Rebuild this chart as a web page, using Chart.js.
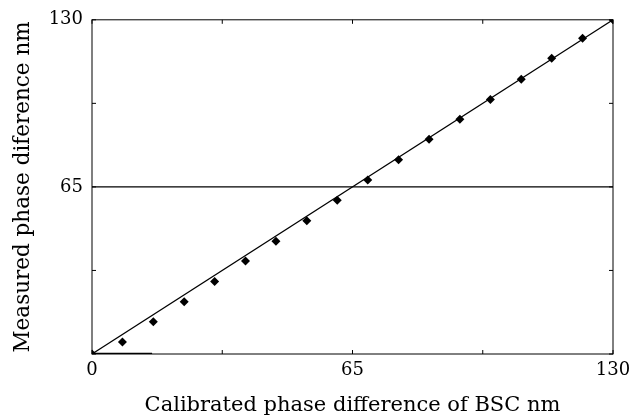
<!DOCTYPE html>
<html>
<head>
<meta charset="utf-8">
<script src="https://cdn.jsdelivr.net/npm/chart.js@4/dist/chart.umd.min.js"></script>
<style>
	html, body { margin: 0; padding: 0; background: #fff; }
	#wrap { width: 643px; height: 418px; }
</style>
</head>
<body>
<div id="wrap"><canvas id="myChart" width="643" height="418"></canvas></div>
<script>
// measured points
const calibrated = [0, 7.6, 15.3, 23.0, 30.6, 38.3, 45.9, 53.6, 61.2, 68.8, 76.5, 84.1, 91.8, 99.4, 107.1, 114.7, 122.4, 130];
const measured = [0, 4.7, 12.5, 20.3, 28.2, 36.2, 43.9, 51.8, 59.8, 67.7, 75.6, 83.5, 91.3, 99.0, 106.9, 115.0, 122.8, 130];

// ideal line and reference line at 65
const idealX = [0, 130];
const idealY = [0, 130];
const refX = [0, 130];
const refY = [65, 65];
const stubX = [0, 15];
const stubY = [0, 0];

const tickValues = [0, 32.5, 65, 97.5, 130];
const xTickLabels = ["0", "", "65", "", "130"];
const yTickLabels = ["", "", "65", "", "130"];

const FONT = "'DejaVu Serif', serif";

const toPoints = (xs, ys) => xs.map((x, i) => ({ x: x, y: ys[i] }));
const labelFor = (labels, v) => {
	const i = tickValues.indexOf(v);
	return i >= 0 ? labels[i] : "";
};

// frame around the plot and short ticks pointing inwards on all four sides
const frameTicks = {
	id: "frameTicks",
	afterDatasetsDraw(chart) {
		const { ctx, chartArea: a, scales } = chart;
		const len = 4;
		ctx.save();
		ctx.strokeStyle = "#000";
		ctx.lineWidth = 1;
		ctx.strokeRect(a.left, a.top, a.right - a.left, a.bottom - a.top);
		ctx.beginPath();
		tickValues.forEach((v) => {
			const px = scales.x.getPixelForValue(v);
			ctx.moveTo(px, a.bottom);
			ctx.lineTo(px, a.bottom - len);
			ctx.moveTo(px, a.top);
			ctx.lineTo(px, a.top + len);
			const py = scales.y.getPixelForValue(v);
			ctx.moveTo(a.left, py);
			ctx.lineTo(a.left + len, py);
			ctx.moveTo(a.right, py);
			ctx.lineTo(a.right - len, py);
		});
		ctx.stroke();
		ctx.restore();
	},
};

new Chart(document.getElementById("myChart").getContext("2d"), {
	type: "scatter",
	data: {
		datasets: [
			{
				label: "Measured",
				data: toPoints(calibrated, measured),
				pointStyle: "rectRot",
				pointRadius: 4.5,
				backgroundColor: "#000",
				borderColor: "#000",
				borderWidth: 0,
				showLine: false,
			},
			{
				label: "Ideal",
				data: toPoints(idealX, idealY),
				showLine: true,
				borderColor: "#000",
				borderWidth: 1.2,
				pointRadius: 0,
			},
			{
				label: "Reference",
				data: toPoints(refX, refY),
				showLine: true,
				borderColor: "#000",
				borderWidth: 1.2,
				pointRadius: 0,
			},
			{
				label: "Stub",
				data: toPoints(stubX, stubY),
				showLine: true,
				borderColor: "#000",
				borderWidth: 2.5,
				pointRadius: 0,
			},
		],
	},
	options: {
		responsive: false,
		animation: false,
		layout: { padding: { top: 17, right: 30, left: 0, bottom: 0 } },
		plugins: {
			legend: { display: false },
			tooltip: { enabled: false },
		},
		scales: {
			x: {
				type: "linear",
				min: 0,
				max: 130,
				afterBuildTicks: (s) => { s.ticks = tickValues.map((v) => ({ value: v })); },
				afterFit: (s) => { s.height = 64; },
				grid: { display: false, drawTicks: false },
				border: { display: false },
				ticks: {
					color: "#000",
					font: { family: FONT, size: 18 },
					padding: 6,
					maxRotation: 0,
					callback: (v) => labelFor(xTickLabels, v),
				},
				title: {
					display: true,
					text: "Calibrated phase difference of BSC nm",
					color: "#000",
					font: { family: FONT, size: 21 },
					padding: { top: 0, bottom: 0 },
				},
			},
			y: {
				type: "linear",
				min: 0,
				max: 130,
				afterBuildTicks: (s) => { s.ticks = tickValues.map((v) => ({ value: v })); },
				afterFit: (s) => { s.width = 92; },
				grid: { display: false, drawTicks: false },
				border: { display: false },
				ticks: {
					color: "#000",
					font: { family: FONT, size: 18 },
					padding: 9,
					callback: (v) => labelFor(yTickLabels, v),
				},
				title: {
					display: true,
					text: "Measured phase diference nm",
					color: "#000",
					font: { family: FONT, size: 21.5 },
					padding: { top: 11, bottom: 0 },
				},
			},
		},
	},
	plugins: [frameTicks],
});
</script>
</body>
</html>
